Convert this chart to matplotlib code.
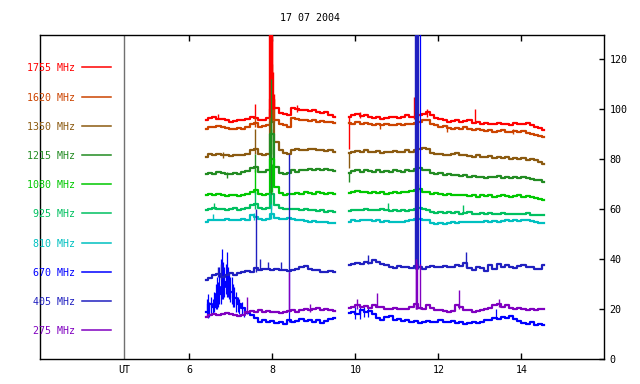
import matplotlib
matplotlib.use("Agg")
import matplotlib.pyplot as plt

plt.rcParams['font.family'] = ['DejaVu Sans Mono']
FS = 7.2

TITLE = "17 07 2004"
UT_X = 4.43
XTICKS = [6, 8, 10, 12, 14]
YTICKS = [0, 20, 40, 60, 80, 100, 120]

FREQS = ['1755 MHz', '1620 MHz', '1350 MHz', '1215 MHz', '1080 MHz',
         '925 MHz', '810 MHz', '670 MHz', '405 MHz', '275 MHz']
COLORS = ['#FF0000', '#CC4400', '#8B5A10', '#228B22', '#00C800',
          '#00C060', '#00C0C0', '#0000FF', '#2020C0', '#8000C0']

T1 = [6.4, 6.5, 6.6, 6.7, 6.8, 6.9, 7.0, 7.1, 7.2, 7.3, 7.4, 7.5, 7.6, 7.7, 7.8, 7.9,
      8.0, 8.1, 8.2, 8.3, 8.4, 8.5, 8.6, 8.7, 8.8, 8.9, 9.0, 9.1, 9.2, 9.3, 9.4, 9.5]
T2 = [9.85, 9.95, 10.05, 10.15, 10.25, 10.35, 10.45, 10.55, 10.65, 10.75, 10.85, 10.95,
      11.05, 11.15, 11.25, 11.35, 11.45, 11.55, 11.65, 11.75, 11.85, 11.95, 12.05, 12.15,
      12.25, 12.35, 12.45, 12.55, 12.65, 12.75, 12.85, 12.95, 13.05, 13.15, 13.25, 13.35,
      13.45, 13.55, 13.65, 13.75, 13.85, 13.95, 14.05, 14.15, 14.25, 14.35, 14.45, 14.55]

# ---- 1755 MHz
F1755_A = [95.5, 96.5, 96.8, 96.2, 96.0, 95.5, 95.0, 95.2, 95.8, 95.5, 96.0, 97.0, 96.5, 95.5, 95.8, 96.5,
           104.0, 100.5, 98.5, 98.0, 97.5, 100.5, 100.0, 99.5, 99.8, 99.2, 99.5, 99.0, 98.5, 98.8, 97.8, 97.0]
F1755_B = [97.0, 97.5, 98.0, 97.2, 97.8, 97.0, 96.5, 96.8, 96.2, 96.5, 96.8, 97.0,
           96.5, 96.8, 97.5, 96.8, 97.0, 97.5, 98.0, 99.0, 97.5, 96.5, 96.0, 95.8,
           95.0, 95.2, 95.5, 95.0, 95.2, 95.8, 94.5, 94.8, 94.2, 94.5, 94.0, 94.2,
           94.5, 94.0, 94.2, 93.8, 94.5, 94.0, 94.2, 94.5, 93.5, 93.0, 92.5, 91.8]
SP1755 = [(7.58, 96, 102), (9.85, 84, 97), (11.42, 96, 105), (11.73, 97, 100),
          (12.88, 95, 100), (6.7, 96, 98), (8.6, 99, 101.5), (10.1, 96.5, 99)]
# flare columns (drawn above the other traces)
FLARE1755 = [(7.92, 97, 135), (7.94, 97, 135), (7.96, 98, 135), (7.98, 100, 135),
             (8.0, 100, 128), (8.02, 100, 115), (8.04, 100, 106)]

# ---- 1620 MHz
F1620_A = [92.0, 92.8, 93.0, 93.2, 92.8, 92.5, 92.2, 92.0, 92.5, 92.2, 93.0, 94.0, 94.5, 93.0, 93.2, 93.5,
           100.0, 95.5, 94.0, 93.5, 93.0, 96.5, 96.0, 95.5, 95.8, 95.2, 95.5, 95.0, 95.3, 94.8, 95.0, 94.5]
F1620_B = [94.5, 94.0, 94.8, 94.2, 94.5, 94.0, 93.8, 94.2, 93.5, 94.0, 93.8, 93.5,
           94.0, 93.8, 94.2, 94.0, 94.5, 95.0, 95.5, 95.8, 94.0, 93.5, 93.0, 93.2,
           92.5, 92.2, 92.5, 92.0, 92.8, 92.2, 91.5, 92.0, 91.5, 91.2, 91.5, 91.0,
           91.2, 91.5, 91.0, 90.8, 91.3, 91.0, 91.2, 90.5, 90.2, 89.8, 89.2, 88.8]
SP1620 = [(7.58, 93, 97), (7.95, 93, 125), (7.99, 95, 118), (8.03, 95, 104),
          (10.6, 92, 94.5), (12.2, 91, 93.5), (13.8, 90, 92)]

# ---- 1350 MHz
F1350_A = [81.0, 82.0, 81.5, 82.2, 81.8, 81.5, 81.2, 81.5, 81.8, 81.5, 82.0, 83.5, 84.0, 82.0, 81.8, 82.0,
           95.0, 87.0, 83.5, 82.5, 82.2, 83.8, 84.0, 83.5, 83.8, 84.2, 84.0, 83.5, 83.8, 83.2, 83.5, 83.0]
F1350_B = [82.5, 83.0, 83.2, 82.8, 83.5, 83.0, 82.8, 83.2, 82.5, 83.0, 82.8, 83.2,
           82.8, 83.0, 83.5, 83.0, 83.8, 84.0, 84.5, 84.0, 82.5, 82.0, 82.2, 81.8,
           81.5, 82.0, 82.5, 81.8, 81.5, 81.2, 81.0, 81.5, 81.0, 80.8, 81.2, 80.5,
           80.8, 80.5, 80.8, 80.2, 80.5, 80.0, 80.3, 79.8, 80.0, 79.5, 78.8, 78.2]
SP1350 = [(7.58, 82, 92), (7.96, 82, 118), (9.85, 76.5, 83), (6.8, 80.5, 83)]

# ---- 1215 MHz
F1215_A = [74.0, 74.5, 74.2, 74.8, 74.5, 74.0, 74.2, 74.5, 74.2, 74.8, 75.2, 76.5, 77.0, 75.0, 74.8, 75.5,
           90.0, 77.0, 74.5, 74.2, 74.5, 75.5, 75.0, 75.8, 75.5, 76.0, 75.8, 76.2, 75.5, 76.0, 75.5, 75.2]
F1215_B = [74.5, 75.2, 75.5, 75.0, 75.8, 75.2, 75.0, 75.5, 74.8, 75.2, 75.0, 75.5,
           75.2, 75.0, 75.5, 75.2, 76.0, 76.5, 75.8, 75.5, 74.5, 74.2, 74.5, 73.8,
           74.0, 73.5, 73.8, 73.2, 73.5, 73.0, 73.2, 72.8, 73.0, 72.5, 73.0, 72.8,
           73.2, 72.5, 72.8, 72.5, 73.0, 72.6, 72.8, 72.5, 72.0, 71.8, 71.5, 71.0]
SP1215 = [(7.58, 75, 82), (7.96, 75, 112), (9.85, 71, 75), (6.9, 72.5, 75)]

# ---- 1080 MHz
F1080_A = [65.5, 66.2, 65.8, 66.0, 65.5, 65.2, 65.5, 65.8, 65.2, 65.5, 66.0, 67.0, 67.5, 66.0, 65.8, 66.2,
           80.0, 69.0, 66.5, 65.8, 66.0, 66.2, 66.5, 66.2, 66.8, 66.5, 66.2, 66.8, 66.5, 66.0, 66.5, 66.2]
F1080_B = [66.5, 67.0, 67.2, 66.8, 67.0, 66.5, 66.8, 66.5, 66.8, 66.2, 66.5, 66.8,
           66.5, 67.0, 66.8, 67.2, 67.5, 68.0, 67.0, 66.8, 66.0, 66.5, 66.0, 65.8,
           66.2, 65.5, 65.8, 65.5, 65.8, 65.2, 65.5, 65.0, 65.5, 65.2, 65.5, 65.0,
           65.3, 65.5, 65.2, 65.0, 65.3, 65.5, 65.0, 65.2, 64.8, 64.5, 64.2, 63.8]
SP1080 = [(7.58, 66, 76), (7.97, 66, 92), (8.0, 67, 78), (11.5, 67, 70)]

# ---- 925 MHz
F925_A = [59.5, 60.2, 60.5, 60.0, 60.2, 59.8, 60.0, 60.3, 59.8, 60.0, 60.5, 61.5, 62.0, 60.5, 60.2, 60.5,
          66.0, 61.5, 60.5, 60.0, 60.2, 60.0, 60.2, 59.8, 60.0, 59.5, 59.8, 59.2, 59.5, 59.0, 59.2, 58.8]
F925_B = [59.2, 59.5, 59.8, 59.5, 60.0, 59.8, 59.5, 59.8, 60.0, 59.5, 59.2, 59.5,
          59.2, 59.5, 59.2, 59.5, 60.0, 60.5, 60.0, 59.5, 59.0, 58.5, 58.8, 58.5,
          58.8, 58.5, 58.8, 58.2, 58.5, 58.8, 58.2, 58.0, 58.3, 58.0, 58.5, 58.2,
          58.0, 58.3, 58.0, 58.2, 58.0, 58.2, 58.0, 58.3, 57.8, 57.8, 57.5, 57.5]
SP925 = [(6.6, 60, 62.5), (7.58, 60, 67), (7.96, 60, 70), (10.78, 59.5, 62.5), (12.59, 58.5, 61.5)]

# ---- 810 MHz
F810_A = [55.0, 55.5, 55.8, 55.5, 55.8, 56.0, 55.5, 55.8, 55.5, 56.0, 55.8, 57.5, 57.0, 56.0, 55.8, 56.0,
          58.0, 56.5, 56.2, 56.0, 56.3, 56.0, 55.8, 55.5, 55.2, 55.0, 55.2, 54.8, 55.0, 54.8, 54.6, 54.5]
F810_B = [55.0, 55.5, 55.2, 55.5, 55.8, 55.5, 55.2, 55.5, 55.0, 55.2, 54.8, 55.0,
          54.8, 55.0, 55.2, 55.5, 56.0, 56.2, 55.8, 55.5, 54.5, 54.2, 54.5, 54.2,
          54.5, 54.8, 54.5, 54.8, 55.0, 54.8, 55.0, 54.8, 55.0, 55.2, 55.0, 55.2,
          55.0, 55.3, 55.5, 55.2, 55.5, 55.3, 55.5, 55.8, 55.2, 55.0, 54.6, 54.5]
SP810 = [(6.56, 55.5, 58), (7.55, 55.5, 58.5), (7.96, 56, 62)]

# ---- 670 MHz (bright blue, lower trace)
F670_A = [19.0, 22.0, 21.0, 26.0, 29.0, 31.0, 27.0, 24.5, 22.0, 20.5, 18.5, 17.5, 16.5, 15.0, 15.5, 14.8,
          15.2, 14.5, 15.0, 14.2, 15.5, 14.8, 15.2, 16.0, 15.2, 15.5, 14.8, 15.5, 14.5, 15.2, 16.0, 16.5]
F670_B = [18.5, 19.0, 18.0, 19.5, 18.8, 19.2, 18.0, 16.5, 15.5, 16.8, 17.2, 15.8,
          16.0, 15.2, 15.5, 14.8, 15.2, 14.5, 15.0, 15.3, 14.8, 15.0, 15.5, 15.0,
          14.8, 15.2, 14.5, 14.8, 14.2, 14.5, 14.8, 14.5, 15.0, 15.8, 15.5, 16.5,
          16.2, 16.8, 16.5, 17.2, 16.0, 15.2, 14.5, 14.0, 14.8, 13.8, 14.2, 13.5]
SP670 = [(6.42, 17, 24), (6.45, 16.5, 26), (6.48, 17, 23), (6.52, 18, 25), (6.56, 18, 24),
         (6.6, 19, 27), (6.63, 20, 30), (6.66, 20, 33), (6.69, 21, 31), (6.72, 22, 37),
         (6.75, 22, 40), (6.78, 24, 44), (6.81, 24, 39), (6.84, 25, 37), (6.87, 26, 38),
         (6.9, 25, 43), (6.93, 25, 37), (6.96, 24, 35), (6.99, 23, 33), (7.02, 22, 33),
         (7.05, 21, 30), (7.08, 21, 29), (7.12, 19, 27), (7.16, 19, 25), (7.2, 18, 24),
         (7.26, 18, 23), (7.32, 17, 21), (8.39, 15, 35), (10.0, 16, 21), (10.1, 16, 21),
         (10.2, 17, 21), (10.3, 17, 20.5), (11.56, 36, 135), (13.38, 16, 20)]

# ---- 405 MHz (dark blue, upper trace)
F405_A = [31.5, 32.5, 33.5, 34.0, 33.0, 33.5, 34.5, 33.8, 34.5, 35.0, 35.2, 35.0, 36.5, 35.8, 36.2, 36.0,
          35.5, 36.2, 35.8, 35.5, 35.2, 35.8, 36.0, 36.8, 37.2, 36.0, 35.5, 35.8, 35.0, 34.8, 35.2, 35.0]
F405_B = [37.5, 38.0, 38.5, 38.0, 39.0, 38.5, 39.5, 39.0, 38.0, 37.5, 37.0, 36.5,
          37.2, 36.8, 37.0, 36.5, 37.2, 36.8, 36.2, 37.0, 37.2, 36.8, 37.0, 37.2,
          36.8, 37.0, 37.5, 37.2, 38.5, 36.5, 35.5, 37.0, 36.5, 35.2, 37.5, 36.0,
          38.0, 36.8, 37.5, 37.0, 36.5, 37.2, 37.5, 36.8, 37.0, 36.0, 36.2, 37.5]
SP405 = [(6.7, 33, 37), (6.75, 32, 38), (7.6, 35, 60), (7.7, 36, 40), (7.9, 36, 39), (8.2, 36, 39),
         (8.39, 35, 82), (10.3, 38, 41.5), (12.66, 37, 43),
         (11.44, 36, 135), (11.46, 36, 135), (11.48, 36, 135), (11.50, 36, 135)]

# ---- 275 MHz
F275_A = [17.0, 17.5, 18.2, 17.8, 18.0, 18.5, 18.2, 17.5, 17.2, 17.8, 19.0, 19.2, 18.8, 19.5, 19.0, 19.2,
          18.8, 19.0, 18.5, 18.8, 19.2, 19.5, 19.0, 19.5, 20.0, 19.5, 20.2, 20.5, 19.8, 20.0, 19.5, 19.2]
F275_B = [20.5, 21.0, 21.5, 20.8, 21.2, 20.5, 21.5, 21.0, 20.8, 20.2, 20.0, 20.5,
          20.0, 20.2, 20.0, 21.0, 22.0, 20.5, 20.0, 21.5, 20.5, 19.5, 19.8, 19.2,
          19.0, 19.2, 21.5, 21.0, 19.5, 19.8, 19.0, 19.2, 19.5, 20.0, 20.5, 21.5,
          22.0, 21.0, 21.5, 20.5, 20.0, 20.5, 20.0, 19.8, 20.2, 19.8, 20.0, 20.0]
SP275 = [(7.38, 18, 25), (8.39, 19, 35), (8.9, 19, 22), (10.05, 20, 24), (10.52, 21, 26.5),
         (11.45, 20, 40), (11.47, 20, 40), (11.49, 20, 38), (11.56, 20, 38), (12.5, 20, 27.5),
         (13.45, 21, 24)]

SERIES = [
    (F1755_A, F1755_B, SP1755),
    (F1620_A, F1620_B, SP1620),
    (F1350_A, F1350_B, SP1350),
    (F1215_A, F1215_B, SP1215),
    (F1080_A, F1080_B, SP1080),
    (F925_A, F925_B, SP925),
    (F810_A, F810_B, SP810),
    (F670_A, F670_B, SP670),
    (F405_A, F405_B, SP405),
    (F275_A, F275_B, SP275),
]
DRAW_ORDER = [0, 1, 2, 3, 4, 5, 6, 9, 7, 8]

fig = plt.figure(figsize=(6.4, 3.84), dpi=100)
ax = fig.add_axes([40 / 640, 1 - 359 / 384, 564 / 640, 324 / 384])
ax.set_xlim(2.40, 15.99)
ax.set_ylim(0, 129.7)

for i in DRAW_ORDER:
    a, b, sp = SERIES[i]
    c = COLORS[i]
    z = 2 + i * 0.1
    ax.plot(T1, a, color=c, lw=1.6, drawstyle='steps-mid', zorder=z)
    ax.plot(T2, b, color=c, lw=1.6, drawstyle='steps-mid', zorder=z)
    ax.vlines([s[0] for s in sp], [s[1] for s in sp], [s[2] for s in sp],
              color=c, lw=1.0 if i != 7 else 0.9, zorder=z)

# red flare column on top, with a thin green core over it
ax.vlines([s[0] for s in FLARE1755], [s[1] for s in FLARE1755], [s[2] for s in FLARE1755],
          color=COLORS[0], lw=1.0, zorder=4)
ax.vlines([7.965], [66], [112], color=COLORS[3], lw=0.9, zorder=4.1)

ax.axvline(UT_X, color='#707070', lw=1.0, zorder=1)

# legend block
LEG_Y0 = 116.7
LEG_DY = 11.68
for i, (lab, c) in enumerate(zip(FREQS, COLORS)):
    y = LEG_Y0 - i * LEG_DY
    ax.text(3.246, y, lab, color=c, fontsize=FS, ha='right', va='center_baseline')
    ax.plot([3.42, 4.10], [y, y], color=c, lw=1.1, clip_on=False)

ax.set_xticks([UT_X] + XTICKS, labels=['UT'] + [str(v) for v in XTICKS])
ax.tick_params(axis='x', which='both', direction='in', length=4, width=1,
               top=True, bottom=True, labelsize=FS, pad=4)
for side in ('tick1line', 'tick2line'):
    getattr(ax.xaxis.get_major_ticks()[0], side).set_visible(False)

ax.yaxis.tick_right()
ax.set_yticks(YTICKS)
ax.tick_params(axis='y', which='both', direction='in', length=3.5, width=1,
               left=False, right=True, labelleft=False, labelright=True,
               labelsize=FS, pad=4)

for sp_ in ax.spines.values():
    sp_.set_linewidth(1.0)
    sp_.set_color('black')

fig.text(310 / 640, 1 - 18 / 384, TITLE, ha='center', va='center', fontsize=FS)

fig.savefig('out.png', dpi=100)
